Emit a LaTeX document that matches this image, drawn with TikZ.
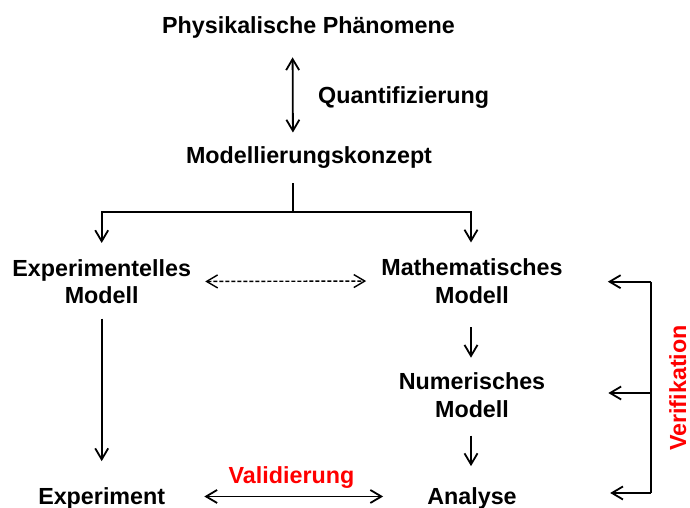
\documentclass[tikz,border=0pt]{standalone}
\usepackage{fontspec}
\setmainfont{Liberation Sans}
\usetikzlibrary{positioning,arrows.meta}
\definecolor{noteRed}{RGB}{255,0,0}
\tikzset{
  lbl/.style={inner sep=0pt, align=center, font=\bfseries\fontsize{23.3}{27.5}\selectfont},
  note/.style={lbl, text=noteRed},
  link/.style={line width=1.8pt},
  flow/.style={link, -{Straight Barb[length=11pt,width=13pt]}},
  both/.style={link, {Straight Barb[length=11pt,width=13pt]}-{Straight Barb[length=11pt,width=13pt]}},
}

\begin{document}
\begin{tikzpicture}[x=1pt, y=-1pt]
  \useasboundingbox (0,0) rectangle (690,508);
  % nodes
  \node[lbl, anchor=base] (phys) at (308.5,33.3) {Physikalische Phänomene};
  \node[lbl, anchor=base west] (quant) at (318,103.3) {Quantifizierung};
  \node[lbl, anchor=base] (konz) at (309,163.6) {Modellierungskonzept};
  \node[lbl] (expm) at (101.7,281.5) {Experimentelles\\Modell};
  \node[lbl] (math) at (472,281) {Mathematisches\\Modell};
  \node[lbl] (num) at (472,395) {Numerisches\\Modell};
  \node[lbl, anchor=base] (exp) at (101.7,504) {Experiment};
  \node[lbl, anchor=base] (ana) at (472,504) {Analyse};
  \node[note, anchor=base] (val) at (291.5,483.3) {Validierung};
  \node[note, anchor=base, rotate=90] (veri) at (686,388) {Verifikation};
  \coordinate (bar) at (651,0);

  % quantification
  \draw[both, shorten <=19pt, shorten >=14pt] ([xshift=-16pt]phys.south) -- ([xshift=-16pt]konz.north);

  % split into both models
  \draw[link] ([xshift=-15.7pt]konz.south) ++(0,14.6) -- ++(0,28.7) coordinate (fork);
  \draw[flow, shorten >=16pt] (fork) -| (expm.north);
  \draw[flow, shorten >=16pt] (fork) -| ([xshift=-1pt]math.north);
  \draw[both, line width=1.4pt, dash pattern=on 4pt off 2pt, shorten <=14pt, shorten >=15pt] (expm.east) -- (math.east -| math.west);

  % chains down
  \draw[flow, shorten <=14.7pt, shorten >=25.8pt] (expm.south) -- (exp.north);
  \draw[flow, shorten <=23.7pt, shorten >=14.8pt] ([xshift=-1pt]math.south) -- ([xshift=-1pt]num.north);
  \draw[flow, shorten <=18.2pt, shorten >=20.8pt] ([xshift=-1pt]num.south) -- ([xshift=-1pt]ana.north);
  \draw[both, shorten <=39pt, shorten >=44pt] ([yshift=1.5pt]exp.east) -- ([yshift=1.5pt]ana.west);

  % verification bracket
  \draw[link] ([yshift=-0.7pt]math.east -| bar) -- ([yshift=5pt]ana.east -| bar);
  \draw[flow, shorten >=45pt] ([yshift=-0.7pt]math.east -| bar) -- ([yshift=-0.7pt]math.east);
  \draw[flow, shorten >=63pt] ([yshift=2pt]num.east -| bar) -- ([yshift=2pt]num.east);
  \draw[flow, shorten >=93.3pt] ([yshift=5pt]ana.east -| bar) -- ([yshift=5pt]ana.east);
\end{tikzpicture}
\end{document}
